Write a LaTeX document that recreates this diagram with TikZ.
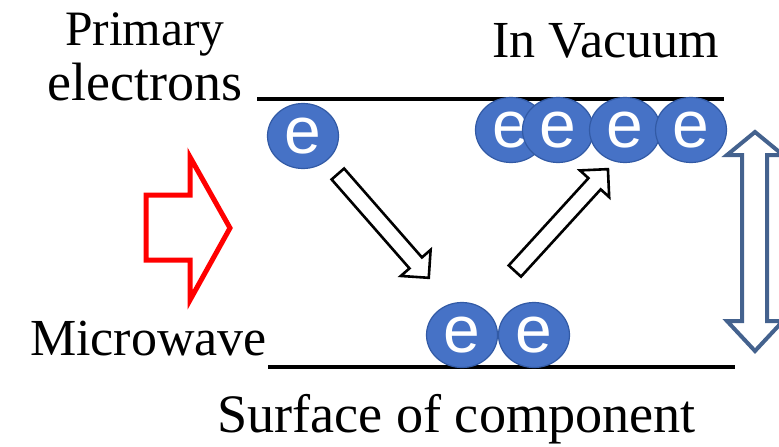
\documentclass[tikz,border=0pt]{standalone}
\usepackage{fontspec}
\setmainfont{Liberation Serif}
\newfontfamily\esans{Liberation Sans}
\usetikzlibrary{shapes.geometric,shapes.arrows}
\definecolor{eblue}{RGB}{70,114,198}
\definecolor{eedge}{RGB}{50,90,165}
\definecolor{dblue}{RGB}{68,98,142}
\begin{document}
\begin{tikzpicture}[x=1pt,y=-1pt,
 lbl/.style={anchor=base west,inner sep=0,font=\fontsize{52}{60}\selectfont},
 elec/.style={ellipse,fill=eblue,draw=eedge,line width=1.2pt,minimum width=71pt,minimum height=65pt,inner sep=0,text=white,font=\esans\fontsize{66}{66}\selectfont},
 hollow/.style={single arrow,draw=black,fill=white,line width=2.6pt,minimum height=138pt,single arrow tip angle=90,single arrow head extend=11.5pt,inner sep=7pt,anchor=tail},
 surfline/.style={line width=4.5pt,black}
]
\useasboundingbox (0,0) rectangle (779,447);
% labels
\node[lbl,font=\fontsize{49.5}{60}\selectfont] (primary) at (65,45) {Primary};
\node[lbl,font=\fontsize{54}{60}\selectfont] (electrons) at (47,100) {electrons};
\node[lbl] (vacuum) at (492,57) {In Vacuum};
\node[lbl] (micro) at (30,355) {Microwave};
\node[lbl,font=\fontsize{54.2}{60}\selectfont] (surface) at (217,432) {Surface of component};
% lines
\coordinate (t1) at (257,99);
\coordinate (t2) at (724,99);
\coordinate (b1) at (268,367);
\coordinate (b2) at (735,367);
\draw[surfline] (t1) -- (t2);
\draw[surfline] (b1) -- (b2);
% electrons
\node[elec] (e0) at (303,136) {e};
\node[elec] (e1) at (511,130) {e};
\node[elec] (e2) at (558,130) {e};
\node[elec] (e3) at (625,130) {e};
\node[elec] (e4) at (691,130) {e};
\node[elec] (e5) at (462,335) {e};
\node[elec] (e6) at (534,335) {e};
% hollow arrows
\node[hollow,rotate=-48.8] (down) at (337,173) {};
\node[hollow,rotate=47.6] (up) at (514,272) {};
% microwave arrow
\draw[red,line width=5pt,line join=miter] (146,195) -- (190,195) -- (190,157) -- (230,228) -- (190,300) -- (190,260) -- (146,260) -- cycle;
% double arrow
\draw[dblue,line width=4pt,line join=miter] (755,132) -- (783,155) -- (767,155) -- (767,321) -- (783,321) -- (755,351) -- (727,321) -- (742,321) -- (742,155) -- (727,155) -- cycle;
\end{tikzpicture}
\end{document}
